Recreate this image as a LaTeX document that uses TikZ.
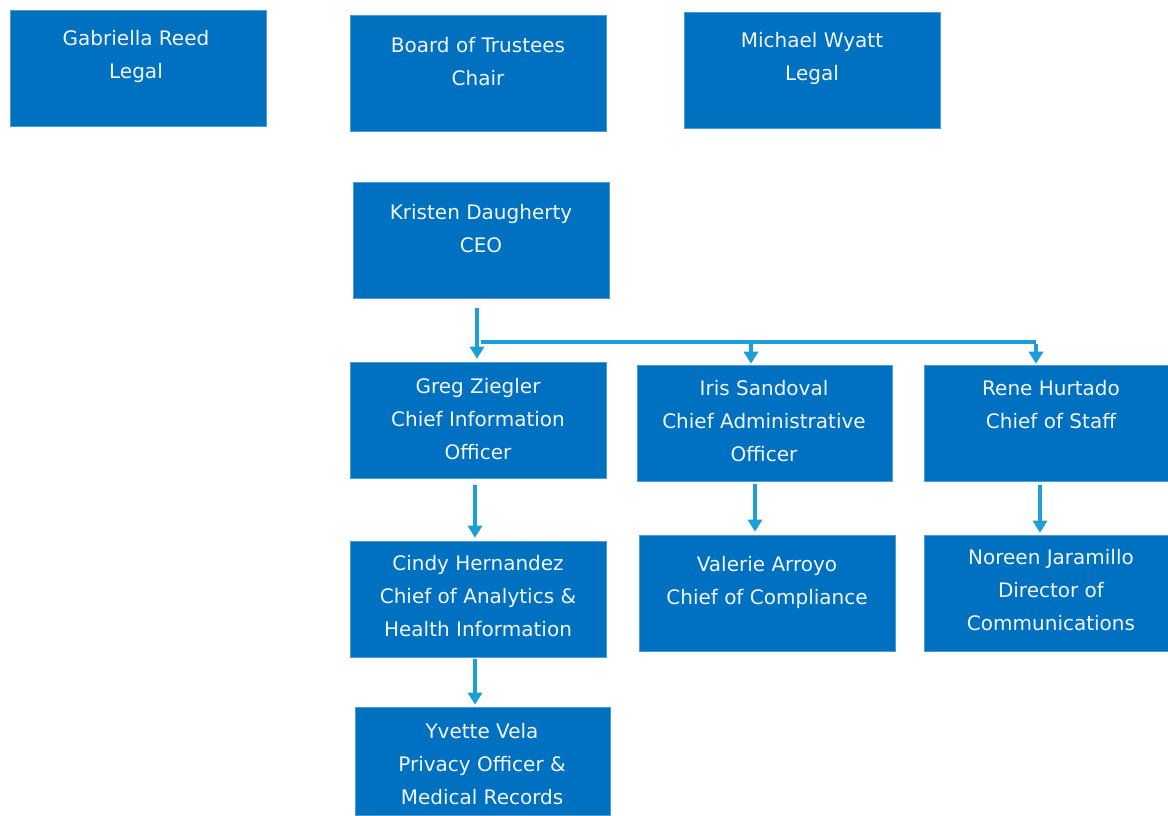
\documentclass[tikz,border=0pt]{standalone}
\usepackage{fontspec}
\setmainfont{DejaVu Sans}
\usetikzlibrary{arrows.meta}
\definecolor{boxblue}{HTML}{0070C0}
\definecolor{arrblue}{HTML}{1C9FD9}
\definecolor{txtwhite}{HTML}{F2F6FB}
\tikzset{
  box/.style={fill=boxblue, draw=boxblue!70!white, line width=0.6pt, minimum width=256pt, minimum height=116pt, inner sep=0pt, anchor=center},
  txt/.style={text=txtwhite, align=center, font=\fontsize{20}{33}\selectfont, inner sep=0pt, anchor=center},
  arr/.style={draw=arrblue, line width=3.2pt, -{Triangle[width=14pt,length=12pt]}},
  link/.style={draw=arrblue, line width=3.2pt}
}
\begin{document}
\begin{tikzpicture}[x=1pt,y=-1pt]
\useasboundingbox (0,0) rectangle (1168,815);
% boxes
\node[box] (gab) at (138,68.5) {};
\node[box] (board) at (478,73) {};
\node[box] (mike) at (812,70) {};
\node[box] (kris) at (481,240) {};
\node[box] (greg) at (478,420) {};
\node[box, minimum width=255pt] (iris) at (764.5,423) {};
\node[box, minimum width=244pt] (rene) at (1046,423) {};
\node[box] (cindy) at (478,599) {};
\node[box] (val) at (767,593) {};
\node[box, minimum width=244pt] (nor) at (1046,593) {};
\node[box, minimum width=255pt, minimum height=108pt] (yve) at (482.5,761) {};
% texts
\node[txt] (tgab) at (136,56.5) {Gabriella Reed\\Legal};
\node[txt] (tboard) at (478,61.5) {Board of Trustees\\Chair};
\node[txt] (tmike) at (812,58.5) {Michael Wyatt\\Legal};
\node[txt] (tkris) at (481,229) {Kristen Daugherty\\CEO};
\node[txt] (tgreg) at (478,419) {Greg Ziegler\\Chief Information\\Officer};
\node[txt] (tiris) at (764,421.5) {Iris Sandoval\\Chief Administrative\\Officer};
\node[txt] (trene) at (1051,404.5) {Rene Hurtado\\Chief of Staff};
\node[txt] (tcindy) at (478,596) {Cindy Hernandez\\Chief of Analytics \&\\Health Information};
\node[txt] (tval) at (767,582) {Valerie Arroyo\\Chief of Compliance};
\node[txt] (tnor) at (1051,590.5) {Noreen Jaramillo\\Director of\\Communications};
\node[txt] (tyve) at (482,764) {Yvette Vela\\Privacy Officer \&\\Medical Records};
% connectors
\coordinate (k0) at (477,308);
\coordinate (h0) at (481,342);
\coordinate (hiris) at (751,342);
\coordinate (hrene) at (1036,342);
\draw[arr, shorten >=3pt] (k0) -- (k0 |- greg.north);
\draw[link] (h0) -- (hrene);
\draw[arr, shorten >=1pt] ([yshift=-1.6pt]hiris) -- (hiris |- iris.north);
\draw[arr, shorten >=1pt] ([yshift=-1.6pt]hrene) -- (hrene |- rene.north);
\coordinate (g0) at (475,485);
\draw[arr, shorten >=3pt] (g0) -- (g0 |- cindy.north);
\coordinate (i0) at (755,484);
\draw[arr, shorten >=3pt] (i0) -- (i0 |- val.north);
\coordinate (r0) at (1040,485);
\draw[arr, shorten >=2pt] (r0) -- (r0 |- nor.north);
\coordinate (c0) at (475,659);
\draw[arr, shorten >=2pt] (c0) -- (c0 |- yve.north);
\end{tikzpicture}
\end{document}
